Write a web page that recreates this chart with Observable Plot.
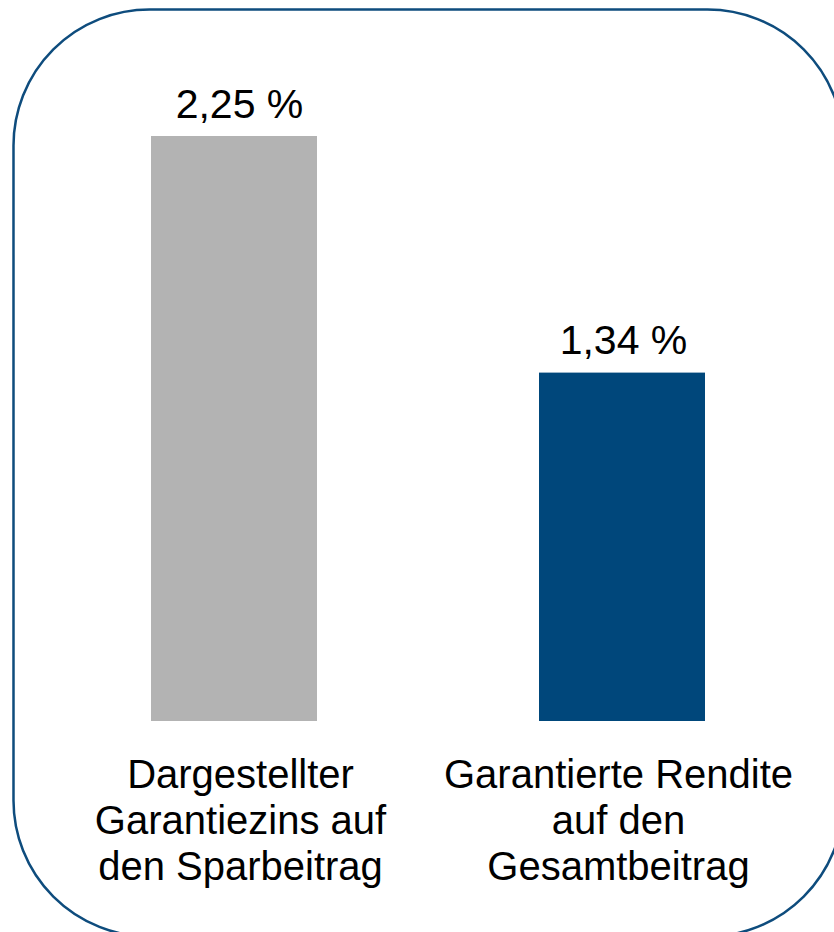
<!DOCTYPE html>
<html>
<head>
<meta charset="utf-8">
<script src="https://cdn.jsdelivr.net/npm/d3@7"></script>
<script src="https://cdn.jsdelivr.net/npm/@observablehq/plot@0.6"></script>
<style>
  html, body { margin: 0; padding: 0; background: #fff; overflow: hidden; }
  #chart svg { display: block; }
</style>
</head>
<body>
<div id="chart"></div>
<script>
const categories = [
  "Dargestellter\nGarantiezins auf\nden Sparbeitrag",
  "Garantierte Rendite\nauf den\nGesamtbeitrag"
];
const values = [2.25, 1.34];
const valueLabels = ["2,25 %", "1,34 %"];
const barColors = ["#b3b3b3", "#00477b"];

const data = categories.map((c, i) => ({category: c, value: values[i], label: valueLabels[i]}));
const left = [data[0]];
const right = [data[1]];

const font = "Liberation Sans, Arial, sans-serif";

const valueText = (d, dx) => Plot.text(d, {x: "category", y: "value", text: "label",
  lineAnchor: "bottom", dy: -19, dx, fontSize: 41, fill: "#000"});
const catText = (d, dx) => Plot.text(d, {x: "category", y: () => 0, text: "category",
  lineAnchor: "top", dy: 34, dx, fontSize: 40, lineHeight: 1.15, fill: "#000"});

const chart = Plot.plot({
  width: 834,
  height: 932,
  marginLeft: 13,
  marginTop: 9,
  marginRight: 0,
  marginBottom: 0,
  style: {fontFamily: font, background: "#fff", overflow: "visible"},
  x: {domain: categories, range: [33.3, 821.8], paddingInner: 0.573, paddingOuter: 0.3, axis: null},
  y: {domain: [0, 2.25], range: [721, 136], axis: null},
  color: {domain: categories, range: barColors},
  marks: [
    Plot.frame({rx: 136, stroke: "#0e4c7d", strokeWidth: 2.5, fill: "none", insetRight: -9, insetBottom: -4}),
    Plot.barY(data, {x: "category", y: "value", fill: "category"}),
    valueText(left, 5),
    valueText(right, 1),
    catText(left, 6),
    catText(right, -4)
  ]
});
document.getElementById("chart").appendChild(chart);
</script>
</body>
</html>
